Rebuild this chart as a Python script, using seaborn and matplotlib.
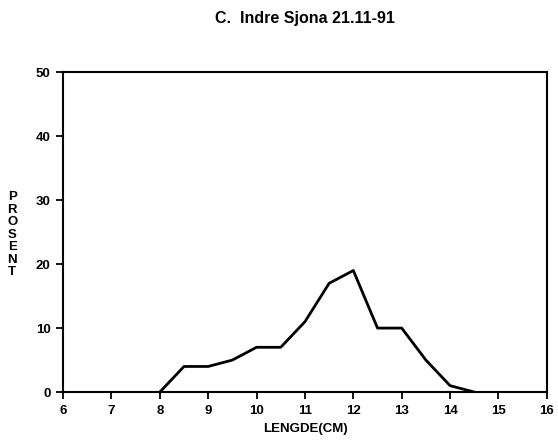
import matplotlib
matplotlib.use("Agg")
import matplotlib.pyplot as plt
import seaborn as sns
import pandas as pd

lengths = [8, 8.5, 9, 9.5, 10, 10.5, 11, 11.5, 12, 12.5, 13, 13.5, 14, 14.5]
percent = [0, 4, 4, 5, 7, 7, 11, 17, 19, 10, 10, 5, 1, 0]
x_ticks = [6, 7, 8, 9, 10, 11, 12, 13, 14, 15, 16]
y_ticks = [0, 10, 20, 30, 40, 50]
title = "C.  Indre Sjona 21.11-91"
xlabel = "LENGDE(CM)"
ylabel = "PROSENT"

sns.set_theme(style="white")
plt.rcParams['font.family'] = ['Liberation Sans', 'DejaVu Sans']
plt.rcParams['font.weight'] = 'bold'
plt.rcParams['text.color'] = 'black'
plt.rcParams['axes.labelcolor'] = 'black'
plt.rcParams['xtick.color'] = 'black'
plt.rcParams['ytick.color'] = 'black'

df = pd.DataFrame({"x": lengths, "y": percent})

fig = plt.figure(figsize=(5.58, 4.43), dpi=100)
ax = fig.add_axes([0.113, 0.115, 0.867, 0.722])
sns.lineplot(data=df, x="x", y="y", ax=ax, color="black", linewidth=2.0)

ax.set_xlim(6, 16)
ax.set_ylim(0, 50)
ax.set_xticks(x_ticks)
ax.set_yticks(y_ticks)
ax.set_xticklabels([str(t) for t in x_ticks], fontsize=9.5, fontweight='bold')
ax.set_yticklabels([str(t) for t in y_ticks], fontsize=9.5, fontweight='bold')
ax.tick_params(axis='both', direction='out', length=5, width=1.3, color='black',
               labelcolor='black', bottom=True, left=True, top=False, right=False, pad=4)
for s in ax.spines.values():
    s.set_color('black')
    s.set_linewidth(1.5)

ax.set_xlabel(xlabel, fontsize=9.5, fontweight='bold', labelpad=5, color='black')
ax.set_ylabel("")
fig.text(0.022, 0.47, "\n".join(ylabel), ha='center', va='center',
         fontsize=9.5, fontweight='bold', linespacing=1.05, color='black')
fig.text(0.546, 0.958, title, ha='center', va='center', fontsize=11.5,
         fontweight='bold', color='black')

fig.savefig("out.png", dpi=100)
